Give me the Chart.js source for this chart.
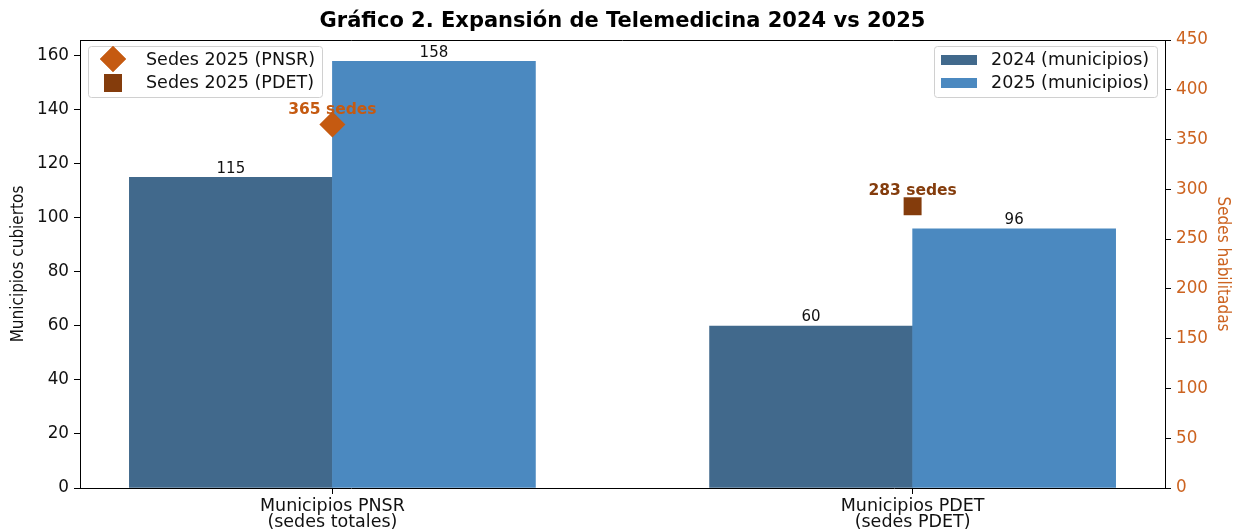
<!doctype html>
<html>
<head>
<meta charset="utf-8">
<title>Expansión de Telemedicina</title>
<script src="https://cdn.jsdelivr.net/npm/chart.js@4.4.1/dist/chart.umd.min.js"></script>
<style>
  html, body { margin: 0; padding: 0; background: #fff; }
  #wrap { width: 1233px; height: 529px; }
</style>
</head>
<body>
<div id="wrap"><canvas id="canvas" width="1233" height="529"></canvas></div>
<script>
// data
var categorias = [["Municipios PNSR", "(sedes totales)"], ["Municipios PDET", "(sedes PDET)"]];
var municipios2024 = [115, 60];
var municipios2025 = [158, 96];
var sedesPNSR = 365;
var sedesPDET = 283;
var ticksIzq = [0, 20, 40, 60, 80, 100, 120, 140, 160];
var ticksDer = [0, 50, 100, 150, 200, 250, 300, 350, 400, 450];

var C2024 = '#41698c';
var C2025 = '#4b89c0';
var NARANJA = '#c55a11';
var MARRON = '#843c0c';
var EJE_DER = '#cc6320';
var FONT = "'DejaVu Sans', sans-serif";
var FONT_NARROW = "'DejaVu Sans Condensed', 'Roboto Condensed', 'Liberation Sans Narrow', Roboto, sans-serif";

var ancho = 0.35;

function pares(vals, dx) {
    return vals.map(function(v, i) { return { x: i + dx, y: v }; });
}

// value labels, annotations, legends, title, top spine
var extras = {
    id: 'extras',
    afterDatasetsDraw: function(chart) {
        var ctx = chart.ctx;
        var a = chart.chartArea;
        ctx.save();

        // values above bars
        ctx.font = '15px ' + FONT;
        ctx.fillStyle = '#111';
        ctx.textAlign = 'center';
        ctx.textBaseline = 'bottom';
        [0, 1].forEach(function(d) {
            var meta = chart.getDatasetMeta(d);
            meta.data.forEach(function(bar, i) {
                ctx.fillText(String(chart.data.datasets[d].data[i].y), bar.x, bar.y - 1);
            });
        });

        // sedes annotations
        ctx.font = 'bold 15.5px ' + FONT;
        ctx.textBaseline = 'middle';
        [2, 3].forEach(function(d) {
            var ds = chart.data.datasets[d];
            var p = chart.getDatasetMeta(d).data[0];
            ctx.fillStyle = ds.backgroundColor;
            ctx.fillText(ds.data[0].y + ' sedes', p.x, p.y - 15);
        });

        // top spine
        ctx.strokeStyle = '#000';
        ctx.lineWidth = 1;
        ctx.beginPath();
        ctx.moveTo(a.left, a.top + 0.5);
        ctx.lineTo(a.right, a.top + 0.5);
        ctx.stroke();

        // title
        ctx.fillStyle = '#000';
        ctx.font = 'bold 21px ' + FONT;
        ctx.textAlign = 'center';
        ctx.fillText('Gráfico 2. Expansión de Telemedicina 2024 vs 2025', (a.left + a.right) / 2, 22);

        // legends
        function caja(x, y, w, h) {
            ctx.fillStyle = 'rgba(255,255,255,0.8)';
            ctx.strokeStyle = '#d0d0d0';
            ctx.lineWidth = 1;
            ctx.beginPath();
            ctx.roundRect(x + 0.5, y + 0.5, w, h, 3);
            ctx.fill();
            ctx.stroke();
        }
        ctx.font = '17.5px ' + FONT;
        ctx.textAlign = 'left';
        ctx.textBaseline = 'middle';

        var lx = a.left + 8, ly = a.top + 6;
        caja(lx, ly, 234, 51);
        var d2 = chart.data.datasets[2], d3 = chart.data.datasets[3];
        ctx.fillStyle = d2.backgroundColor;
        ctx.beginPath();
        Chart.helpers.drawPoint(ctx, { pointStyle: 'rectRot', radius: 13, borderWidth: 0 }, lx + 25, ly + 13);
        ctx.fill();
        ctx.fillStyle = d3.backgroundColor;
        ctx.fillRect(lx + 16, ly + 28, 18, 18);
        ctx.fillStyle = '#111';
        ctx.fillText(d2.label, lx + 58, ly + 14);
        ctx.fillText(d3.label, lx + 58, ly + 37);

        var rx = a.right - 231, ry = a.top + 6;
        caja(rx, ry, 223, 51);
        ctx.fillStyle = C2024;
        ctx.fillRect(rx + 7, ry + 9, 36, 10);
        ctx.fillStyle = C2025;
        ctx.fillRect(rx + 7, ry + 32, 36, 10);
        ctx.fillStyle = '#111';
        ctx.fillText(chart.data.datasets[0].label, rx + 57, ry + 14);
        ctx.fillText(chart.data.datasets[1].label, rx + 57, ry + 37);

        ctx.restore();
    }
};

var config = {
    type: 'bar',
    data: {
        datasets: [{
            label: '2024 (municipios)',
            backgroundColor: C2024,
            data: pares(municipios2024, -ancho / 2),
            yAxisID: 'y',
            barThickness: 203,
            grouped: false,
            order: 3
        }, {
            label: '2025 (municipios)',
            backgroundColor: C2025,
            data: pares(municipios2025, ancho / 2),
            yAxisID: 'y',
            barThickness: 203,
            grouped: false,
            order: 2
        }, {
            type: 'scatter',
            label: 'Sedes 2025 (PNSR)',
            backgroundColor: NARANJA,
            borderColor: NARANJA,
            pointStyle: 'rectRot',
            pointRadius: 13,
            borderWidth: 0,
            data: [{ x: 0, y: sedesPNSR }],
            yAxisID: 'y2',
            order: 1
        }, {
            type: 'scatter',
            label: 'Sedes 2025 (PDET)',
            backgroundColor: MARRON,
            borderColor: MARRON,
            pointStyle: 'rect',
            pointRadius: 12.7,
            borderWidth: 0,
            data: [{ x: 1, y: sedesPDET }],
            yAxisID: 'y2',
            order: 0
        }]
    },
    options: {
        responsive: false,
        animation: false,
        devicePixelRatio: 1,
        layout: { padding: { top: 40, left: 0, right: 0, bottom: 0 } },
        plugins: {
            legend: { display: false },
            title: { display: false },
            tooltip: { enabled: false }
        },
        scales: {
            x: {
                type: 'linear',
                offset: false,
                min: -0.435,
                max: 1.435,
                afterBuildTicks: function(s) { s.ticks = [{ value: 0 }, { value: 1 }]; },
                afterFit: function(s) { s.height = 41; },
                ticks: {
                    autoSkip: false,
                    maxRotation: 0,
                    color: '#111',
                    padding: 4,
                    font: { family: FONT, size: 17.5, lineHeight: 0.92 },
                    callback: function(v) { return categorias[Math.round(v)]; }
                },
                grid: { offset: false, drawOnChartArea: false, tickLength: 6, color: '#000' },
                border: { color: '#000', width: 1 }
            },
            y: {
                position: 'left',
                min: 0,
                max: 158 * 1.05,
                afterBuildTicks: function(s) { s.ticks = ticksIzq.map(function(v) { return { value: v }; }); },
                afterFit: function(s) { s.width = 80; },
                ticks: { color: '#111', padding: 5, font: { family: FONT, size: 16.8 } },
                grid: { drawOnChartArea: false, tickLength: 6, color: '#000' },
                border: { color: '#000', width: 1 },
                title: {
                    display: true,
                    text: 'Municipios cubiertos',
                    color: '#111',
                    padding: { top: 8, bottom: 0 },
                    font: { family: FONT_NARROW, size: 17 }
                }
            },
            y2: {
                position: 'right',
                min: 0,
                max: 450,
                afterBuildTicks: function(s) { s.ticks = ticksDer.map(function(v) { return { value: v }; }); },
                afterFit: function(s) { s.width = 68; },
                ticks: { color: EJE_DER, padding: 5, font: { family: FONT, size: 16.8 } },
                grid: { drawOnChartArea: false, tickLength: 6, color: '#000' },
                border: { color: '#000', width: 1 },
                title: {
                    display: true,
                    text: 'Sedes habilitadas',
                    color: EJE_DER,
                    padding: { top: 0, bottom: 0 },
                    font: { family: FONT_NARROW, size: 17 }
                }
            }
        }
    },
    plugins: [extras]
};

window.onload = function() {
    window.myChart = new Chart(document.getElementById('canvas'), config);
};
</script>
</body>
</html>
